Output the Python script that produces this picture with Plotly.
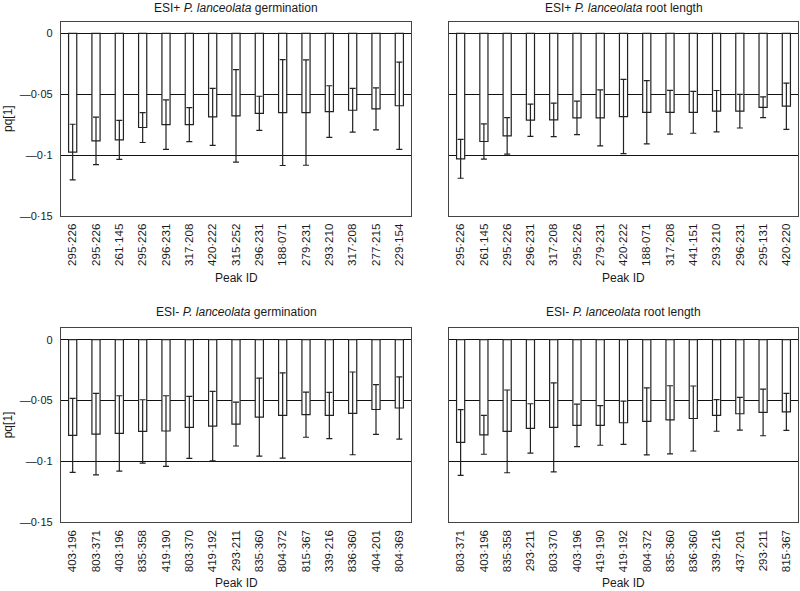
import plotly.graph_objects as go

# ---------------- data ----------------
p1_title = "ESI+ <i>P. lanceolata</i> germination"
p1_labels = ["295·226", "295·226", "261·145", "295·226", "296·231", "317·208", "420·222", "315·252",
             "296·231", "188·071", "279·231", "293·210", "317·208", "277·215", "229·154"]
p1_vals = [-0.0975, -0.0883, -0.0874, -0.0773, -0.0749, -0.0749, -0.0686, -0.0678,
           -0.0656, -0.0650, -0.0650, -0.0642, -0.0631, -0.0620, -0.0594]
p1_err = [0.0229, 0.0195, 0.0160, 0.0123, 0.0203, 0.0140, 0.0234, 0.0380,
          0.0140, 0.0435, 0.0433, 0.0212, 0.0180, 0.0172, 0.0358]

p2_title = "ESI+ <i>P. lanceolata</i> root length"
p2_labels = ["295·226", "261·145", "295·226", "296·231", "317·208", "295·226", "279·231", "420·222",
             "188·071", "317·208", "441·151", "293·210", "296·231", "295·131", "420·220"]
p2_vals = [-0.1030, -0.0888, -0.0842, -0.0713, -0.0710, -0.0694, -0.0694, -0.0683,
           -0.0648, -0.0648, -0.0648, -0.0639, -0.0639, -0.0607, -0.0598]
p2_err = [0.0160, 0.0145, 0.0150, 0.0133, 0.0137, 0.0138, 0.0230, 0.0305,
          0.0260, 0.0180, 0.0172, 0.0170, 0.0138, 0.0085, 0.0190]

p3_title = "ESI- <i>P. lanceolata</i> germination"
p3_labels = ["403·196", "803·371", "403·196", "835·358", "419·190", "803·370", "419·192", "293·211",
             "835·360", "804·372", "815·367", "339·216", "836·360", "404·201", "804·369"]
p3_vals = [-0.0786, -0.0775, -0.0770, -0.0753, -0.0750, -0.0720, -0.0710, -0.0693,
           -0.0636, -0.0622, -0.0616, -0.0622, -0.0605, -0.0573, -0.0561]
p3_err = [0.0304, 0.0335, 0.0310, 0.0260, 0.0290, 0.0255, 0.0285, 0.0180,
          0.0320, 0.0350, 0.0185, 0.0190, 0.0340, 0.0205, 0.0256]

p4_title = "ESI- <i>P. lanceolata</i> root length"
p4_labels = ["803·371", "403·196", "835·358", "293·211", "803·370", "403·196", "419·190", "419·192",
             "804·372", "835·360", "836·360", "339·216", "437·201", "293·211", "815·367"]
p4_vals = [-0.0844, -0.0781, -0.0753, -0.0729, -0.0720, -0.0704, -0.0704, -0.0682,
           -0.0671, -0.0658, -0.0647, -0.0622, -0.0608, -0.0597, -0.0592]
p4_err = [0.0270, 0.0160, 0.0340, 0.0203, 0.0365, 0.0175, 0.0163, 0.0177,
          0.0275, 0.0280, 0.0267, 0.0130, 0.0134, 0.0192, 0.0152]

y_tickvals = [0, -0.05, -0.1, -0.15]
y_ticktext = ["0", "\u20140·05", "\u20140·1", "\u20140·15"]
x_title = "Peak ID"
y_title = "pq[1]"

# ---------------- figure ----------------
W, H = 800, 591
FONT = "Liberation Sans, Arial, Helvetica, sans-serif"
TXT = "#1a1a1a"


def px(x):
    return x / W


def py(y):
    return 1 - y / H


panels = [
    (p1_title, p1_labels, p1_vals, p1_err),
    (p2_title, p2_labels, p2_vals, p2_err),
    (p3_title, p3_labels, p3_vals, p3_err),
    (p4_title, p4_labels, p4_vals, p4_err),
]

xdoms = [[px(61), px(411)], [px(449), px(798)]]
ydoms = [[py(216), py(22)], [py(522.3), py(328.3)]]

fig = go.Figure()
layout = dict(
    width=W, height=H,
    margin=dict(l=0, r=0, t=0, b=0),
    paper_bgcolor="white", plot_bgcolor="white",
    showlegend=False,
    font=dict(family=FONT, size=12, color=TXT),
)
annotations = []

for i, (title, labels, vals, errs) in enumerate(panels):
    row, col = divmod(i, 2)
    ax = "" if i == 0 else str(i + 1)
    xs = list(range(len(vals)))
    fig.add_trace(go.Bar(
        x=xs, y=vals,
        width=0.35,
        marker=dict(color="white", line=dict(color="#222", width=1.2)),
        error_y=dict(type="data", array=errs, visible=True, color="#222", thickness=1.2, width=3),
        xaxis="x" + ax, yaxis="y" + ax,
    ))
    layout["xaxis" + ax] = dict(
        domain=xdoms[col], anchor="y" + ax,
        range=[-0.5, len(vals) - 0.5],
        tickmode="array", tickvals=xs, ticktext=labels,
        tickangle=-90, tickfont=dict(size=11.5, family=FONT, color=TXT),
        ticks="outside", ticklen=2, tickcolor="rgba(0,0,0,0)",
        showgrid=False, zeroline=False,
        showline=True, linecolor="#444", linewidth=1.2, mirror=True,
        automargin=False,
    )
    layout["yaxis" + ax] = dict(
        domain=ydoms[row], anchor="x" + ax,
        range=[-0.15, 0.0094],
        tickmode="array", tickvals=y_tickvals, ticktext=y_ticktext,
        showticklabels=(col == 0),
        tickfont=dict(size=11, family=FONT, color=TXT),
        ticks="outside", ticklen=5, tickcolor="rgba(0,0,0,0)",
        showgrid=True, gridcolor="#111", gridwidth=1,
        zeroline=False,
        showline=True, linecolor="#444", linewidth=1.2, mirror=True,
        automargin=False,
    )
    xmid = (xdoms[col][0] + xdoms[col][1]) / 2
    title_y = [8, 312][row]
    annotations.append(dict(
        text=title, x=xmid, y=py(title_y), xref="paper", yref="paper",
        xanchor="center", yanchor="middle", showarrow=False,
        font=dict(size=12, family=FONT, color=TXT),
    ))
    xt_y = [278, 583][row]
    annotations.append(dict(
        text=x_title, x=xmid, y=py(xt_y), xref="paper", yref="paper",
        xanchor="center", yanchor="middle", showarrow=False,
        font=dict(size=12, family=FONT, color=TXT),
    ))
    if col == 0:
        ymid = (ydoms[row][0] + ydoms[row][1]) / 2
        annotations.append(dict(
            text=y_title, x=px(8), y=ymid, xref="paper", yref="paper",
            xanchor="center", yanchor="middle", showarrow=False, textangle=-90,
            font=dict(size=12, family=FONT, color=TXT),
        ))

layout["annotations"] = annotations
fig.update_layout(**layout)
fig.write_html(
    "out.html",
    config={"displayModeBar": False},
    post_script="document.body.style.margin='0';document.body.style.overflow='hidden';",
)
